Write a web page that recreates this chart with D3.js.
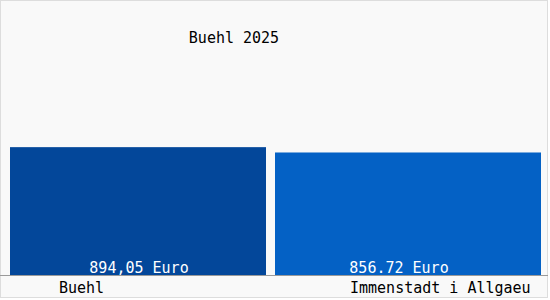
<!DOCTYPE html>
<html>
<head>
<meta charset="utf-8">
<script src="https://cdn.jsdelivr.net/npm/d3@7"></script>
<style>
    body { margin: 0; background: #ffffff; }
    text { font-family: "DejaVu Sans Mono", "Liberation Mono", monospace; font-size: 15px; }
</style>
</head>
<body>
<script>
//chart data
var categories = ["Buehl", "Immenstadt i Allgaeu"];
var values = [894.05, 856.72];
var valueLabels = ["894,05 Euro", "856.72 Euro"];
var barColors = ["#03479a", "#0461c5"];
var title = "Buehl 2025";

//frame dimensions
var width = 550,
    height = 300,
    gap = 9;

var svg = d3.select("body")
    .append("svg")
    .attr("width", width)
    .attr("height", height);

//background panel with light border
svg.append("rect")
    .attr("x", 0.5)
    .attr("y", 0.5)
    .attr("width", 547)
    .attr("height", 297)
    .attr("fill", "#f9f9f9")
    .attr("stroke", "#dddddd");

//scales
var x = d3.scaleBand()
    .domain(categories)
    .range([10, 541])
    .round(true)
    .align(0);

var y = d3.scaleLinear()
    .domain([0, 1000])
    .range([275, 132]);

//right edge of each bar: next band start minus gap, last one runs to range end
function barRight(i){
    return i < categories.length - 1 ? x(categories[i + 1]) - gap : x.range()[1];
}

//bars
svg.selectAll(".bar")
    .data(values)
    .enter()
    .append("rect")
    .attr("class", "bar")
    .attr("x", function(d, i){ return x(categories[i]); })
    .attr("width", function(d, i){ return barRight(i) - x(categories[i]); })
    .attr("y", function(d){ return y(d); })
    .attr("height", function(d){ return y(0) - y(d); })
    .attr("fill", function(d, i){ return barColors[i]; });

//baseline
svg.append("line")
    .attr("x1", 0)
    .attr("x2", 548)
    .attr("y1", y(0) + 0.5)
    .attr("y2", y(0) + 0.5)
    .attr("stroke", "#9a9a9a");

//value labels inside bars
svg.selectAll(".valueLabel")
    .data(valueLabels)
    .enter()
    .append("text")
    .attr("class", "valueLabel")
    .attr("x", function(d, i){ return x(categories[i]) + (i === 0 ? 129 : 124); })
    .attr("y", y(0) - 2.5)
    .attr("text-anchor", "middle")
    .attr("fill", "#ffffff")
    .text(function(d){ return d; });

//category labels below axis
svg.selectAll(".catLabel")
    .data(categories)
    .enter()
    .append("text")
    .attr("class", "catLabel")
    .attr("x", function(d, i){ return x(d) + (i === 0 ? 49 : 75); })
    .attr("y", 292.5)
    .attr("fill", "#000000")
    .text(function(d){ return d; });

//title
svg.append("text")
    .attr("x", 234)
    .attr("y", 42.5)
    .attr("text-anchor", "middle")
    .attr("fill", "#000000")
    .text(title);
</script>
</body>
</html>
